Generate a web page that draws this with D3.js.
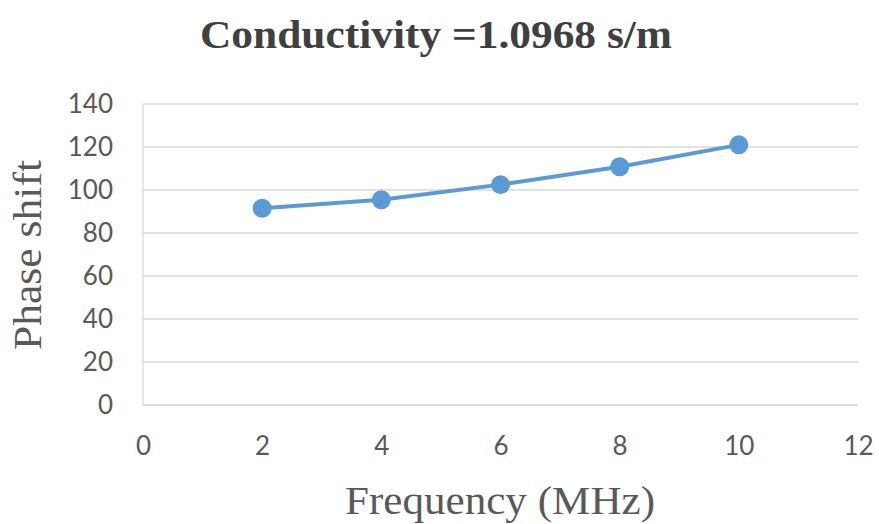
<!DOCTYPE html>
<html>
<head>
<meta charset="utf-8">
<script src="https://cdn.jsdelivr.net/npm/d3@7"></script>
<style>
  body { margin: 0; background: #fff; }
  .axis text { font-family: Lato, "Open Sans", sans-serif; fill: #595959; }
</style>
</head>
<body>
<div id="chart"></div>
<script>
// data
let frequency = [2, 4, 6, 8, 10];
let phaseShift = [91.5, 95.5, 102.5, 110.8, 121];
let xTicks = [0, 2, 4, 6, 8, 10, 12];
let yTicks = [0, 20, 40, 60, 80, 100, 120, 140];

let W = 879, H = 524;
let margin = { top: 104, right: 21, bottom: 119, left: 143 };
let width = W - margin.left - margin.right,
    height = H - margin.top - margin.bottom;

let svg = d3.select("#chart").append("svg")
    .attr("width", W)
    .attr("height", H);

let g = svg.append("g")
    .attr("transform", "translate(" + margin.left + "," + margin.top + ")");

let x = d3.scaleLinear()
    .domain([0, 12])
    .range([0, width]);

let y = d3.scaleLinear()
    .domain([0, 140])
    .range([height, 0]);

// gridlines
g.append("g")
    .selectAll("line")
    .data(yTicks.filter(d => d > 0))
    .join("line")
    .attr("x1", 0)
    .attr("x2", width)
    .attr("y1", d => y(d))
    .attr("y2", d => y(d))
    .style("stroke", "#d9d9d9")
    .style("stroke-width", 1.3);

// left + bottom axis lines
g.append("line")
    .attr("x1", 0).attr("x2", 0)
    .attr("y1", 0).attr("y2", height)
    .style("stroke", "#d9d9d9")
    .style("stroke-width", 1.3);
g.append("line")
    .attr("x1", 0).attr("x2", width)
    .attr("y1", height).attr("y2", height)
    .style("stroke", "#d0d0d0")
    .style("stroke-width", 1.3);

let yAxis = d3.axisLeft(y)
    .tickValues(yTicks)
    .tickSize(0)
    .tickPadding(30);

let xAxis = d3.axisBottom(x)
    .tickValues(xTicks)
    .tickSize(0)
    .tickPadding(32);

g.append("g")
    .attr("class", "y-axis axis")
    .style("font-size", "26px")
    .call(yAxis)
    .select(".domain").remove();

g.append("g")
    .attr("class", "x-axis axis")
    .attr("transform", "translate(0," + height + ")")
    .style("font-size", "26px")
    .call(xAxis)
    .select(".domain").remove();

let points = frequency.map((f, i) => [f, phaseShift[i]]);

let line = d3.line()
    .x(d => x(d[0]))
    .y(d => y(d[1]));

g.append("path")
    .datum(points)
    .attr("d", line)
    .style("fill", "none")
    .style("stroke", "#5b9bd5")
    .style("stroke-width", 4);

g.selectAll(".dot")
    .data(points)
    .join("circle")
    .attr("class", "dot")
    .attr("cx", d => x(d[0]))
    .attr("cy", d => y(d[1]))
    .attr("r", 9.5)
    .style("fill", "#5b9bd5");

// titles
svg.append("text")
    .attr("x", 436)
    .attr("y", 48)
    .attr("text-anchor", "middle")
    .attr("textLength", 472)
    .attr("lengthAdjust", "spacingAndGlyphs")
    .style("font-family", "'Liberation Serif', 'Times New Roman', serif")
    .style("font-weight", "bold")
    .style("font-size", "40px")
    .style("fill", "#404040")
    .text("Conductivity =1.0968 s/m");

svg.append("text")
    .attr("x", 500)
    .attr("y", 514)
    .attr("text-anchor", "middle")
    .attr("textLength", 310)
    .attr("lengthAdjust", "spacingAndGlyphs")
    .style("font-family", "'Liberation Serif', 'Times New Roman', serif")
    .style("font-size", "40px")
    .style("fill", "#595959")
    .text("Frequency (MHz)");

svg.append("text")
    .attr("transform", "translate(41,255) rotate(-90)")
    .attr("text-anchor", "middle")
    .attr("textLength", 190)
    .attr("lengthAdjust", "spacingAndGlyphs")
    .style("font-family", "'Liberation Serif', 'Times New Roman', serif")
    .style("font-size", "40px")
    .style("fill", "#595959")
    .text("Phase shift");
</script>
</body>
</html>
